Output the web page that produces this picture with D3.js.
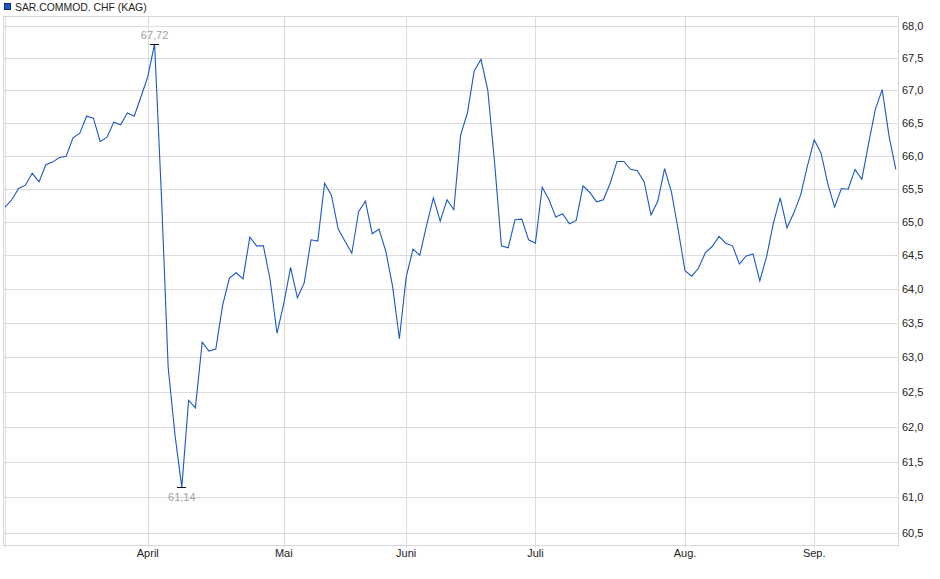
<!DOCTYPE html>
<html>
<head>
<meta charset="utf-8">
<script src="https://cdn.jsdelivr.net/npm/d3@7"></script>
<style>
  body { margin: 0; background: #fff; }
  svg text { font-family: "Liberation Sans", Arial, sans-serif; }
</style>
</head>
<body>
<div id="d3-container"></div>
<script>
/**
 * CONSTANTS AND GLOBALS
 * */
const width = 940,
  height = 579,
  margin = { top: 16, bottom: 34, left: 3, right: 42 };

const seriesName = "SAR.COMMOD. CHF (KAG)";

// daily closing values (one per trading day, March -> mid September)
const values = [
  65.22, 65.33, 65.50, 65.55, 65.73, 65.60, 65.86, 65.90, 65.97, 65.99,
  66.27, 66.34, 66.60, 66.57, 66.21, 66.28, 66.51, 66.47, 66.65, 66.60,
  66.90, 67.21, 67.72, 65.40, 62.85, 61.88, 61.14, 62.38, 62.27, 63.22,
  63.09, 63.12, 63.76, 64.16, 64.24, 64.15, 64.77, 64.64, 64.64, 64.13,
  63.35, 63.79, 64.32, 63.87, 64.09, 64.73, 64.71, 65.58, 65.40, 64.89,
  64.71, 64.53, 65.15, 65.31, 64.82, 64.89, 64.56, 64.04, 63.27, 64.18,
  64.59, 64.50, 64.95, 65.36, 65.01, 65.33, 65.18, 66.31, 66.65, 67.30,
  67.48, 67.00, 65.89, 64.64, 64.61, 65.03, 65.04, 64.73, 64.68, 65.52,
  65.33, 65.07, 65.12, 64.97, 65.02, 65.54, 65.44, 65.30, 65.33, 65.58,
  65.91, 65.91, 65.79, 65.77, 65.60, 65.10, 65.31, 65.80, 65.45, 64.88,
  64.27, 64.19, 64.31, 64.54, 64.63, 64.78, 64.68, 64.64, 64.37, 64.49,
  64.52, 64.12, 64.48, 64.98, 65.36, 64.91, 65.13, 65.40, 65.84, 66.24,
  66.04, 65.57, 65.22, 65.50, 65.49, 65.79, 65.64, 66.18, 66.71, 67.01,
  66.30, 65.79
];

// first trading day of each month (index into values) and its label
const monthIndex = [0, 21, 41, 59, 78, 100, 119];
const monthLabels = ["", "April", "Mai", "Juni", "Juli", "Aug.", "Sep."];

const yTicks = [60.5, 61, 61.5, 62, 62.5, 63, 63.5, 64, 64.5, 65, 65.5, 66, 66.5, 67, 67.5, 68];
const yDomain = [60.333, 68.157];

const fmt = v => d3.format(".1f")(v).replace(".", ",");
const fmt2 = v => d3.format(".2f")(v).replace(".", ",");

/**
 * SCALES
 * */
const xScale = d3
  .scaleLinear()
  .domain([0, values.length - 1])
  .range([5, 895.8]);

const yScale = d3
  .scaleLog()
  .domain(yDomain)
  .range([height - margin.bottom, margin.top]);

const svg = d3
  .select("#d3-container")
  .append("svg")
  .attr("width", width)
  .attr("height", height);

const plotLeft = margin.left,
  plotRight = width - margin.right,
  plotTop = margin.top,
  plotBottom = height - margin.bottom;

// horizontal grid + right axis labels
const yAxis = svg.append("g").attr("class", "y-axis");
yAxis
  .selectAll("line")
  .data(yTicks)
  .join("line")
  .attr("x1", plotLeft)
  .attr("x2", plotRight)
  .attr("y1", d => Math.round(yScale(d)) + 0.5)
  .attr("y2", d => Math.round(yScale(d)) + 0.5)
  .attr("stroke", "#dcdcdc")
  .attr("shape-rendering", "crispEdges");
yAxis
  .selectAll("text")
  .data(yTicks)
  .join("text")
  .attr("x", plotRight + 4)
  .attr("y", d => yScale(d) + 4)
  .attr("font-size", 11)
  .attr("fill", "#222")
  .text(fmt);

// vertical grid at month starts + labels underneath
const xAxis = svg.append("g").attr("class", "x-axis");
xAxis
  .selectAll("line")
  .data(monthIndex)
  .join("line")
  .attr("x1", d => Math.round(xScale(d)) + 0.5)
  .attr("x2", d => Math.round(xScale(d)) + 0.5)
  .attr("y1", plotTop)
  .attr("y2", plotBottom + 3)
  .attr("stroke", "#dcdcdc")
  .attr("shape-rendering", "crispEdges");
xAxis
  .selectAll("text")
  .data(monthIndex)
  .join("text")
  .attr("x", d => xScale(d))
  .attr("y", plotBottom + 12)
  .attr("text-anchor", "middle")
  .attr("font-size", 11)
  .attr("fill", "#222")
  .text((d, i) => monthLabels[i]);

// plot frame
svg
  .append("rect")
  .attr("x", plotLeft + 0.5)
  .attr("y", plotTop + 0.5)
  .attr("width", plotRight - plotLeft)
  .attr("height", plotBottom - plotTop)
  .attr("fill", "none")
  .attr("stroke", "#d6d6d6")
  .attr("shape-rendering", "crispEdges");

// the price line
const line = d3
  .line()
  .x((d, i) => xScale(i))
  .y(d => yScale(d));

svg
  .append("path")
  .datum(values)
  .attr("d", line)
  .attr("fill", "none")
  .attr("stroke", "#1a58c2")
  .attr("stroke-width", 1.1);

// high / low markers
const hiIdx = d3.maxIndex(values),
  loIdx = d3.minIndex(values);
const marks = [
  { i: hiIdx, v: values[hiIdx], dy: -4.5 },
  { i: loIdx, v: values[loIdx], dy: 14 }
];
const mk = svg.append("g").attr("class", "extremes");
mk.selectAll("line")
  .data(marks)
  .join("line")
  .attr("x1", d => xScale(d.i) - 4.5)
  .attr("x2", d => xScale(d.i) + 4.5)
  .attr("y1", d => Math.round(yScale(d.v)) + 0.5)
  .attr("y2", d => Math.round(yScale(d.v)) + 0.5)
  .attr("stroke", "#111")
  .attr("shape-rendering", "crispEdges");
mk.selectAll("text")
  .data(marks)
  .join("text")
  .attr("x", d => xScale(d.i))
  .attr("y", d => yScale(d.v) + d.dy)
  .attr("text-anchor", "middle")
  .attr("font-size", 11)
  .attr("fill", "#a0a0a0")
  .text(d => fmt2(d.v));

// legend
svg
  .append("rect")
  .attr("x", 4.5)
  .attr("y", 3.5)
  .attr("width", 6)
  .attr("height", 6)
  .attr("fill", "#1a58c2")
  .attr("stroke", "#0b2f75");
svg
  .append("text")
  .attr("x", 15)
  .attr("y", 10.5)
  .attr("font-size", 10.4)
  .attr("fill", "#222")
  .text(seriesName);
</script>
</body>
</html>
